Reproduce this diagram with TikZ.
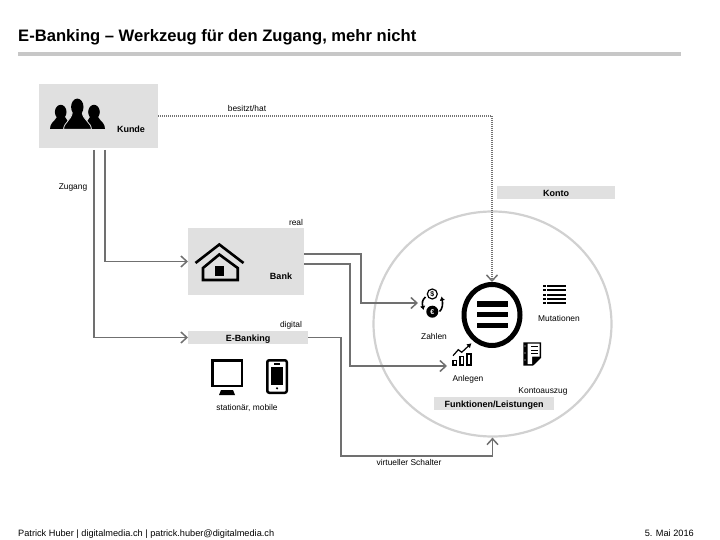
\documentclass[tikz,border=0pt]{standalone}
\usepackage{fontspec}
\setmainfont{Liberation Sans}
\usetikzlibrary{positioning, shapes.geometric, arrows.meta}
\definecolor{boxgray}{HTML}{E0E0E0}
\definecolor{linegray}{HTML}{707070}

\begin{document}
\begin{tikzpicture}[
  x=1pt, y=-1pt,
  font=\fontsize{8.4}{10}\selectfont,
  panel/.style  ={rectangle, fill=boxgray, inner sep=0pt, outer sep=0pt, text height=8pt, text depth=.5pt,
                  font=\fontsize{9}{10}\selectfont\bfseries},
  iconlabel/.style={inner sep=0pt, text height=6pt, text depth=1.8pt},
  ring/.style   ={ellipse, draw=black!18, line width=2.2pt, inner sep=0pt,
                  minimum width=238pt, minimum height=225pt},
  menu/.style   ={ellipse, draw=black, line width=5pt, inner sep=0pt,
                  minimum width=56pt, minimum height=61pt},
  flow/.style   ={-{Straight Barb[length=6pt, width=11pt, line width=1.5pt]}, draw=linegray, line width=1.6pt},
  owns/.style   ={-{Straight Barb[length=6pt, width=11pt, line width=1.5pt]}, draw=black!55, line width=1.3pt,
                  dash pattern=on 1pt off 1pt},
  tinyarrow/.style={-{Latex[length=4pt, width=5.5pt]}, line width=1.6pt}
]
\useasboundingbox (0,0) rectangle (720,540);

% ---------- Header and footer ----------
\node[anchor=base west, inner sep=0pt, font=\fontsize{16.6}{20}\selectfont\bfseries] (title) at (18,42)
  {E-Banking – Werkzeug für den Zugang, mehr nicht};
\fill[black!22] (18,51.7) rectangle (681,56);
\node[anchor=base west, inner sep=0pt, font=\fontsize{9.2}{10}\selectfont] (footl) at (18,536)
  {Patrick Huber | digitalmedia.ch | patrick.huber@digitalmedia.ch};
\node[anchor=base east, inner sep=0pt, font=\fontsize{9.2}{10}\selectfont] (footr) at (694,536) {5. Mai 2016};

% ---------- Boxes ----------
\node[panel, anchor=north west, minimum width=119pt, minimum height=64pt] (kunde) at (39,84) {};
\node[panel, below right=80pt and 30pt of kunde, minimum width=116pt, minimum height=67pt] (bank) {};
\node[panel, anchor=north west, minimum width=120pt, minimum height=13pt]
  (ebanking) at (188,331) {E-Banking};
\node[panel, anchor=north west, minimum width=118pt, minimum height=13pt]
  (konto) at (497,186) {Konto};

% ---------- Circle ----------
\node[ring] (leistung) at (492.5,324) {};
\node[menu] (hub) at (492,315) {};
\node[panel, anchor=north west, minimum width=120pt, minimum height=13pt]
  (funktion) at (434,397) {Funktionen/Leistungen};
\foreach \y in {304,314.7,325.7}
  \fill (477.3,\y-2.6) rectangle (507.7,\y+2.6);

% ---------- Labels ----------
\node[panel, fill=none] (kundetxt) at (131,129) {Kunde};
\node[panel, fill=none] (banktxt)  at (281,276) {Bank};
\node[iconlabel] (besitzt) at (247,109) {besitzt/hat};
\node[iconlabel] (zugang)  at (73,187)  {Zugang};
\node[iconlabel] (real)    at (296,223) {real};
\node[iconlabel] (digital) at (291,325) {digital};
\node[iconlabel] (geraete) at (247,408) {stationär, mobile};
\node[iconlabel] (zahlen)  at (434,337) {Zahlen};
\node[iconlabel] (mutat)   at (559,319) {Mutationen};
\node[iconlabel] (anlegen) at (468,379) {Anlegen};
\node[iconlabel] (auszug)  at (543,391) {Kontoauszug};
\node[iconlabel] (schalter) at (409,463) {virtueller Schalter};

% ---------- Icons ----------
% people
\fill (60.7,112) ellipse (5.8 and 7.2);
\fill (94,112) ellipse (5.8 and 7.2);
\fill (50,129) .. controls (50,123) and (54,122) .. (57,117) -- (65,117) -- (69,123) -- (68,129) -- cycle;
\fill (105,129) .. controls (105,123) and (101,122) .. (98,117) -- (90,117) -- (86,123) -- (87,129) -- cycle;
\fill[draw=boxgray, line width=.8pt] (63.5,129.4) .. controls (64,122) and (71,121) .. (72.5,112) -- (82,112)
  .. controls (83.5,121) and (91,122) .. (91.5,129.4) -- cycle;
\fill (77.3,107) ellipse (6.2 and 8.4);
% house
\draw[line width=2.6pt] (195.5,263) -- (219.3,244.5) -- (243.5,263);
\draw[line width=2.6pt] (203,268) -- (219.3,254.5) -- (237.7,268) -- (237.7,280) -- (203,280) -- cycle;
\fill (215,265.7) rectangle (224.3,276.3);
% monitor and phone
\draw[line width=2.8pt] (212.5,360.5) rectangle (242,386);
\fill (221,390) -- (233,390) -- (235,395) -- (219,395) -- cycle;
\fill[rounded corners=3pt] (266,359) rectangle (288,394);
\fill[white, rounded corners=1pt] (268.5,361.5) rectangle (285.5,391.5);
\fill (271,367) rectangle (283,385);
\fill (274,363.4) rectangle (280,364.6);
\fill (277,388.3) circle (1.2);
% money
\draw[line width=1.2pt, fill=white] (432.3,294) circle (5);
\node[inner sep=0pt, font=\fontsize{7}{8}\selectfont\bfseries] (dollar) at (432.3,294) {\$};
\fill (432.3,311.7) circle (6);
\node[inner sep=0pt, text=white, font=\fontsize{7}{8}\selectfont\bfseries] (euro) at (432.3,311.7) {€};
\draw[tinyarrow] (425.5,297) .. controls (422,300) and (422,303) .. (423.5,310);
\draw[tinyarrow] (439.5,311.5) .. controls (442.5,309) and (443,304) .. (441.5,296.5);
% chart
\draw[line width=1.3pt] (453,360.8) rectangle (456.6,365);
\draw[line width=1.3pt] (460,356.4) rectangle (463.4,365);
\draw[line width=1.3pt] (467,354) rectangle (471,365);
\draw[-{Latex[length=4.5pt, width=5.5pt]}, line width=1.2pt] (453,355.7) -- (458.3,349.7) -- (461.7,352.3) -- (471.5,343.2);
% list
\foreach \y in {285,289.3,293.6,297.9,302.2}{
  \fill (543,\y) rectangle (545.5,\y+2);
  \fill (547,\y) rectangle (566,\y+2);
}
% statement
\fill (523.3,342.3) -- (541,342.3) -- (541,358) -- (533,365.7) -- (523.3,365.7) -- cycle;
\fill[white] (527.5,343.6) -- (539.6,343.6) -- (539.6,356.5) -- (532,356.5) -- (532,364) -- (527.5,364) -- cycle;
\foreach \y in {346.7,350,353.3}
  \draw[line width=.7pt] (531,\y) -- (537.7,\y);
\foreach \y in {346,353,360}
  \fill[white] (525,\y) circle (.6);

% ---------- Arrows ----------
\coordinate (zahlenin)  at (418,303);
\coordinate (anlegenin) at (447,366);
\coordinate (knick)     at (492.5,456);

\draw[owns] (kunde.east) -| (hub.north);
\draw[flow] (94,150) |- (ebanking.west);
\draw[flow] (105,150) |- (bank.west);
\draw[flow] ([yshift=7.5pt]bank.east) -- ++(57,0) |- (zahlenin);
\draw[flow] ([yshift=-2.5pt]bank.east) -- ++(46,0) |- (anlegenin);
\draw[flow] (ebanking.east) -- ++(33,0) |- (knick) -- (leistung.south);

\end{tikzpicture}
\end{document}
